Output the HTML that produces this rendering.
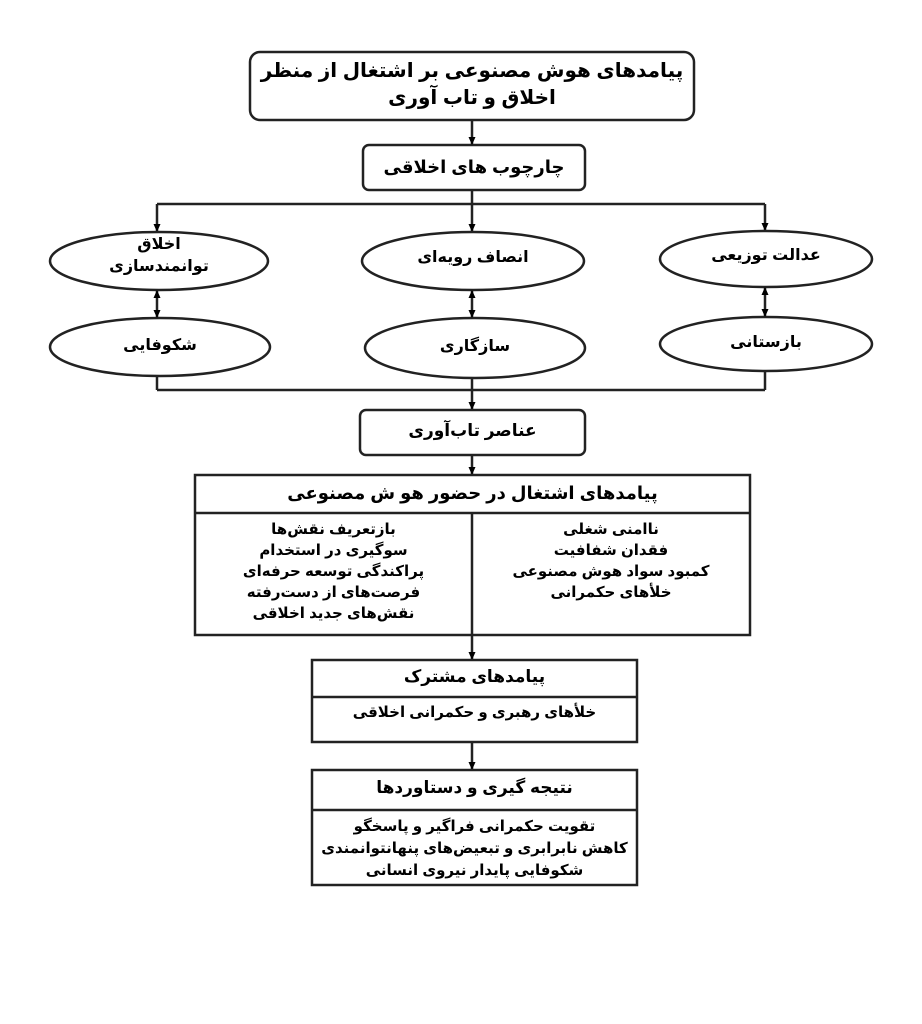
<!DOCTYPE html>
<html><head><meta charset="utf-8"><style>
body{margin:0;background:#fff;width:922px;height:1024px;position:relative;font-family:"Liberation Sans","Noto Sans CJK SC","DejaVu Sans",sans-serif;font-weight:bold;color:#000}
.t{position:absolute;text-align:center;direction:rtl;line-height:1.35}
</style></head><body>
<svg width="922" height="1024" style="position:absolute;left:0;top:0">
<defs><marker id="a" markerUnits="userSpaceOnUse" markerWidth="8" markerHeight="8" refX="7" refY="4" orient="auto-start-reverse"><path d="M0,0.5 L8,4 L0,7.5z" fill="#000"/></marker></defs>
<g stroke="#222" stroke-width="2.5" fill="none">
<rect x="250" y="52" width="444" height="68" rx="10"/>
<rect x="363" y="145" width="222" height="45" rx="6"/>
<line x1="472" y1="120" x2="472" y2="144" marker-end="url(#a)"/>
<line x1="472" y1="190" x2="472" y2="204"/>
<line x1="157" y1="204" x2="765" y2="204"/>
<line x1="157" y1="204" x2="157" y2="231" marker-end="url(#a)"/>
<line x1="472" y1="204" x2="472" y2="231" marker-end="url(#a)"/>
<line x1="765" y1="204" x2="765" y2="230" marker-end="url(#a)"/>
<ellipse cx="159" cy="261" rx="109" ry="29"/>
<ellipse cx="473" cy="261" rx="111" ry="29"/>
<ellipse cx="766" cy="259" rx="106" ry="28"/>
<ellipse cx="160" cy="347" rx="110" ry="29"/>
<ellipse cx="475" cy="348" rx="110" ry="30"/>
<ellipse cx="766" cy="344" rx="106" ry="27"/>
<line x1="157" y1="291" x2="157" y2="317" marker-start="url(#a)" marker-end="url(#a)"/>
<line x1="472" y1="291" x2="472" y2="317" marker-start="url(#a)" marker-end="url(#a)"/>
<line x1="765" y1="288" x2="765" y2="316" marker-start="url(#a)" marker-end="url(#a)"/>
<line x1="157" y1="376" x2="157" y2="390"/>
<line x1="765" y1="371" x2="765" y2="390"/>
<line x1="157" y1="390" x2="765" y2="390"/>
<line x1="472" y1="378" x2="472" y2="409" marker-end="url(#a)"/>
<rect x="360" y="410" width="225" height="45" rx="6"/>
<line x1="472" y1="455" x2="472" y2="474" marker-end="url(#a)"/>
<rect x="195" y="475" width="555" height="160"/>
<line x1="195" y1="513" x2="750" y2="513"/>
<line x1="472" y1="513" x2="472" y2="659" marker-end="url(#a)"/>
<rect x="312" y="660" width="325" height="82"/>
<line x1="312" y1="697" x2="637" y2="697"/>
<line x1="472" y1="742" x2="472" y2="769" marker-end="url(#a)"/>
<rect x="312" y="770" width="325" height="115"/>
<line x1="312" y1="810" x2="637" y2="810"/>
</g></svg>
<div class="t" style="left:250px;top:58px;width:444px;font-size:20px">پیامدهای هوش مصنوعی بر اشتغال از منظر<br>اخلاق و تاب آوری</div>
<div class="t" style="left:363px;top:155px;width:222px;font-size:18px">چارچوب های اخلاقی</div>
<div class="t" style="left:50px;top:234px;width:218px;font-size:16px">اخلاق<br>توانمندسازی</div>
<div class="t" style="left:362px;top:247px;width:222px;font-size:16px">انصاف رویه‌ای</div>
<div class="t" style="left:660px;top:245px;width:212px;font-size:16px">عدالت توزیعی</div>
<div class="t" style="left:50px;top:335px;width:220px;font-size:16px">شکوفایی</div>
<div class="t" style="left:365px;top:336px;width:220px;font-size:16px">سازگاری</div>
<div class="t" style="left:660px;top:332px;width:212px;font-size:16px">بازستانی</div>
<div class="t" style="left:360px;top:420px;width:225px;font-size:17px">عناصر تاب‌آوری</div>
<div class="t" style="left:195px;top:481px;width:555px;font-size:18px">پیامدهای اشتغال در حضور هو ش مصنوعی</div>
<div class="t" style="left:195px;top:519px;width:277px;font-size:15px;line-height:21px">بازتعریف نقش‌ها<br>سوگیری در استخدام<br>پراکندگی توسعه حرفه‌ای<br>فرصت‌های از دست‌رفته<br>نقش‌های جدید اخلاقی</div>
<div class="t" style="left:472px;top:519px;width:278px;font-size:15px;line-height:21px">ناامنی شغلی<br>فقدان شفافیت<br>کمبود سواد هوش مصنوعی<br>خلأهای حکمرانی</div>
<div class="t" style="left:312px;top:666px;width:325px;font-size:17px">پیامدهای مشترک</div>
<div class="t" style="left:312px;top:703px;width:325px;font-size:15px">خلأهای رهبری و حکمرانی اخلاقی</div>
<div class="t" style="left:312px;top:777px;width:325px;font-size:17px">نتیجه گیری و دستاوردها</div>
<div class="t" style="left:312px;top:816px;width:325px;font-size:15px;line-height:22px">تقویت حکمرانی فراگیر و پاسخگو<br>کاهش نابرابری و تبعیض‌های پنهانتوانمندی<br>شکوفایی پایدار نیروی انسانی</div>
</body></html>
